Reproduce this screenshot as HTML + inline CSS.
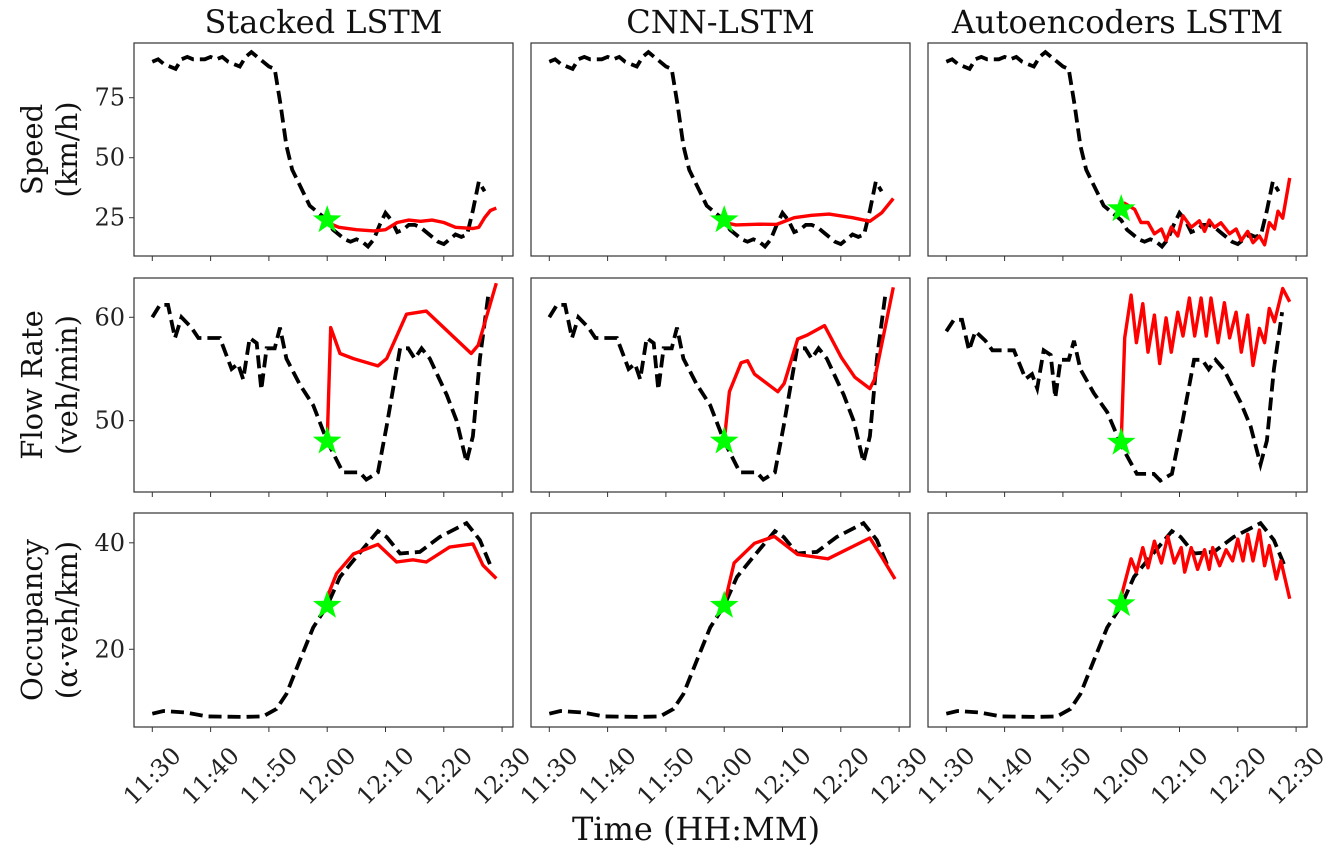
<!DOCTYPE html>
<html><head><meta charset="utf-8"><style>
html,body{margin:0;padding:0;background:#fff;}
svg{display:block;font-family:"DejaVu Serif","Liberation Serif",serif;}
</style></head><body>
<svg id="chart" width="1342" height="853" viewBox="0 0 1342 853" xmlns="http://www.w3.org/2000/svg"></svg>
<script>
// ---- data (time in minutes after 11:30) ----
const colTitles = ["Stacked LSTM", "CNN-LSTM", "Autoencoders LSTM"];
const rowLabels1 = ["Speed", "Flow Rate", "Occupancy"];
const rowLabels2 = ["(km/h)", "(veh/min)", "(\u03b1\u00b7veh/km)"];
const xTickLabels = ["11:30","11:40","11:50","12:00","12:10","12:20","12:30"];
const xTickTimes = [0,10,20,30,40,50,60];
const speedTicks = [25,50,75];
const flowTicks = [50,60];
const occTicks = [20,40];

const speedTrueT = [0,1,2,3,4,5,6,7,8,9,10,11,12,13,14,15,16,17,18,19,20,21,22,23,24,25,26,27,28,29,30,31,32,33,34,35,36,37,38,39,40,41,42,43,44,45,46,47,48,49,50,51,52,53,54,55,56,57];
const speedTrueV = [90,91,89,88,87,91,92,91,91,91,92,91,92,90,89,88,92,94,92,90,88,87,72,55,45,40,35,30,28,26,24,20,18,16,15,16,15,13,16,22,27,24,19,20,22,22,21,19,17,15,14,16,18,17,18,28,40,36];
const flowTrueT = [0,1.3,2.7,3.9,5,6.7,7.9,11.6,13.6,14.7,15.6,16.7,17.9,18.7,19.6,21,21.9,23,25.3,27.6,30,32.7,35.6,36.7,38.7,40.2,42.5,43.9,45,46.2,47.6,50.5,52.2,53.9,55,56.2,57.6];
const flowTrueV = [60,61.2,61.2,58,60,59,58,58,55,55.5,54,58,57.5,53,57,57,59,56,53.5,51.5,48,45,45,44.3,45,49.5,57,57,56,57,56,52.5,50,46,48.5,56,62];
const occTrueT = [0,1.9,5.9,9.3,15.6,19,21.3,23,25.3,27.6,30,32.2,34.5,38.7,40.2,42.5,45.9,49.3,53.9,56.2,57.9];
const occTrueV = [7.9,8.4,8.1,7.4,7.3,7.4,8.8,11.6,17.9,24.1,28.2,33.6,36.7,42.2,41.1,38,38.3,41.1,43.7,40.5,36];

const speedPredT1 = [30,32,35,38,40,42,44,46,48,50,52,55,56,57,58,59];
const speedPredV1 = [23,21,20,19.5,20,23,24,23.5,24,23,21,20.5,21,25,28,29];
const speedPredT2 = [30,32,36,39,42,45,48,52,55,57,59];
const speedPredV2 = [23,22,22.3,22.2,25,26,26.5,25,23.5,27,33];
const speedPredT3 = [30,30.6,32.3,33.4,34.6,35.7,36.9,37.7,38.6,39.7,40.6,42,43.4,44.3,45.1,46,47.1,48.6,49.7,50.6,51.7,52.6,53.7,54.6,55.4,56.3,56.9,57.7,58.9];
const speedPredV3 = [28.6,31,28.5,23,23,18.3,20.3,15.5,21.1,17.4,25.8,21,23.7,19.3,24,21,22.9,18.3,20.3,15.5,19.3,14.6,17.4,13.7,23,20.3,27.7,24.8,41.6];

const flowPredT1 = [30,30.6,32.2,34.5,38.7,40.2,43.6,47,54.7,55.9,59];
const flowPredV1 = [48,59,56.5,56,55.3,56,60.3,60.6,56.5,57.3,63.3];
const flowPredT2 = [30,30.9,32.9,34,35.2,39.2,40.3,42.6,44.3,47.2,50.1,52.4,55,55.8,59];
const flowPredV2 = [48,52.8,55.6,55.8,54.5,52.8,53.6,57.9,58.3,59.2,56.1,54.2,53.1,54,62.9];
const flowPredT3 = [30,30.6,31.7,32.6,33.7,34.6,35.7,36.6,37.7,38.6,39.7,40.6,41.7,42.6,43.7,44.6,45.4,46.6,47.7,48.6,49.7,50.6,51.7,52.6,53.7,54.6,55.4,56.3,57.7,58.9];
const flowPredV3 = [48.3,59.3,63.8,58.8,62.9,57.8,61.7,56.6,61.4,57.8,62,59.5,63.5,59.5,63.5,59.5,63.5,58.8,63,59.3,62,57.8,61.7,56.4,60.3,58.8,62.4,61,64.5,63.1];

const occPredT1 = [30,31.6,34.5,38.7,41.9,44.7,47,51,55,56.7,59];
const occPredV1 = [29.8,34.2,37.9,39.7,36.4,36.8,36.4,39.2,39.8,35.8,33.3];
const occPredT2 = [30,31.7,35.2,38.6,42.6,47.8,52.4,55,57,59.3];
const occPredV2 = [28.3,36.2,39.9,41.2,37.8,37,39.5,40.9,37.4,33.2];
const occPredT3 = [30,31.7,32.6,33.7,34.6,35.7,36.9,38,39.1,40.3,40.9,42,43.1,44.3,45.1,45.7,46.9,48,49.1,50,50.9,51.7,52.6,53.7,54.6,55.4,56.6,57.4,58.9];
const occPredV3 = [29.9,37,34.5,39.1,35.3,40.3,36.2,41.2,36.2,39.1,34.5,39.1,35,38.7,35,39.1,35.7,38.7,36.6,40.7,36.6,41.6,36.6,42.4,35.7,39.5,33.2,36.6,29.5];

const starVals = [[24,24,28.6],[48,48,48.3],[28.2,28.2,28.5]];
const yDomains = [[[9.05,97.8],[9.05,97.8],[9.05,97.8]],[[43.1,63.8],[43.1,63.8],[43.1,65.6]],[[5.4,45.6],[5.4,45.6],[5.4,45.6]]];

// ---- layout ----
const NS = "http://www.w3.org/2000/svg";
const svg = document.getElementById("chart");
const colLeft = [134, 531, 928];
const panelW = 379;
const rowTop = [43, 278, 513];
const panelH = [213, 214, 214];
const x0off = 18.3, pxPerMin = 5.83;

function el(tag, attrs, parent) {
  const e = document.createElementNS(NS, tag);
  for (const k in attrs) e.setAttribute(k, attrs[k]);
  (parent || svg).appendChild(e);
  return e;
}
function xScale(c, t) { return colLeft[c] + x0off + t * pxPerMin; }
function yScale(r, c, v) {
  const d = yDomains[r][c];
  return rowTop[r] + panelH[r] - (v - d[0]) / (d[1] - d[0]) * panelH[r];
}
function pathD(r, c, T, V) {
  return T.map((t, i) => (i ? "L" : "M") + xScale(c, t).toFixed(1) + "," + yScale(r, c, V[i]).toFixed(1)).join(" ");
}

const trueT = [speedTrueT, flowTrueT, occTrueT];
const trueV = [speedTrueV, flowTrueV, occTrueV];
const predT = [[speedPredT1, speedPredT2, speedPredT3], [flowPredT1, flowPredT2, flowPredT3], [occPredT1, occPredT2, occPredT3]];
const predV = [[speedPredV1, speedPredV2, speedPredV3], [flowPredV1, flowPredV2, flowPredV3], [occPredV1, occPredV2, occPredV3]];
const yTicks = [speedTicks, flowTicks, occTicks];

function starPts(cx, cy, R) {
  const r = R * 0.4; const p = [];
  for (let i = 0; i < 10; i++) {
    const a = -Math.PI / 2 + i * Math.PI / 5;
    const rr = i % 2 ? r : R;
    p.push((cx + rr * Math.cos(a)).toFixed(1) + "," + (cy + rr * Math.sin(a)).toFixed(1));
  }
  return p.join(" ");
}

for (let r = 0; r < 3; r++) {
  for (let c = 0; c < 3; c++) {
    const g = el("g", {});
    
    
    const clipId = "clip" + r + c;
    const cp = el("clipPath", {id: clipId}, g);
    el("rect", {x: colLeft[c], y: rowTop[r], width: panelW, height: panelH[r]}, cp);
    xTickTimes.forEach((t, i) => {
      const tk = el("line", {x1: xScale(c, t), x2: xScale(c, t), y1: rowTop[r] + panelH[r], y2: rowTop[r] + panelH[r] + 5, stroke: "#333", "stroke-width": 1}, g);
      
      
      if (r === 2) {
        const cx = xScale(c, t), cy = 776;
        const tl = el("text", {x: cx, y: cy + 8, "text-anchor": "middle", "font-size": 24, fill: "#222", transform: "rotate(-45 " + cx + " " + cy + ")"}, g);
        tl.textContent = xTickLabels[i];
        
        
      }
    });
    if (c === 0) {
      yTicks[r].forEach(v => {
        const y = yScale(r, c, v);
        const yt = el("line", {x1: colLeft[c] - 5, x2: colLeft[c], y1: y, y2: y, stroke: "#333", "stroke-width": 1}, g);
        
        
        const yl = el("text", {x: colLeft[c] - 9, y: y + 8, "text-anchor": "end", "font-size": 24, fill: "#222"}, g);
        yl.textContent = v;
        
        
      });
    }
    const tl = el("path", {d: pathD(r, c, trueT[r], trueV[r]), fill: "none", stroke: "#000", "stroke-width": 3.8, "stroke-dasharray": "13 6", "clip-path": "url(#" + clipId + ")"}, g);
    
    
    const pl = el("path", {d: pathD(r, c, predT[r][c], predV[r][c]), fill: "none", stroke: "#ff0000", "stroke-width": 3.4, "stroke-linejoin": "round", "clip-path": "url(#" + clipId + ")"}, g);
    
    
    const st = el("polygon", {points: starPts(xScale(c, 30), yScale(r, c, starVals[r][c]), 15), fill: "#00ff00"}, g);
    
    
    const fr = el("rect", {x: colLeft[c], y: rowTop[r], width: panelW, height: panelH[r], fill: "none", stroke: "#333", "stroke-width": 1.2}, g);
    
    
  }
}
colTitles.forEach((t, c) => {
  const tx = el("text", {x: colLeft[c] + panelW / 2, y: 33, "text-anchor": "middle", "font-size": 32, fill: "#111"});
  tx.textContent = t;
  
  
});
for (let r = 0; r < 3; r++) {
  const cy = rowTop[r] + panelH[r] / 2;
  const a = el("text", {x: 32, y: cy, "text-anchor": "middle", "font-size": 29, fill: "#111", transform: "rotate(-90 32 " + cy + ")", dy: 10});
  a.textContent = rowLabels1[r];
  
  
  const b = el("text", {x: 67, y: cy, "text-anchor": "middle", "font-size": 29, fill: "#111", transform: "rotate(-90 67 " + cy + ")", dy: 10});
  b.textContent = rowLabels2[r];
  
  
}
const xt = el("text", {x: 696, y: 840, "text-anchor": "middle", "font-size": 32, fill: "#111"});
xt.textContent = "Time (HH:MM)";


</script>
</body></html>
